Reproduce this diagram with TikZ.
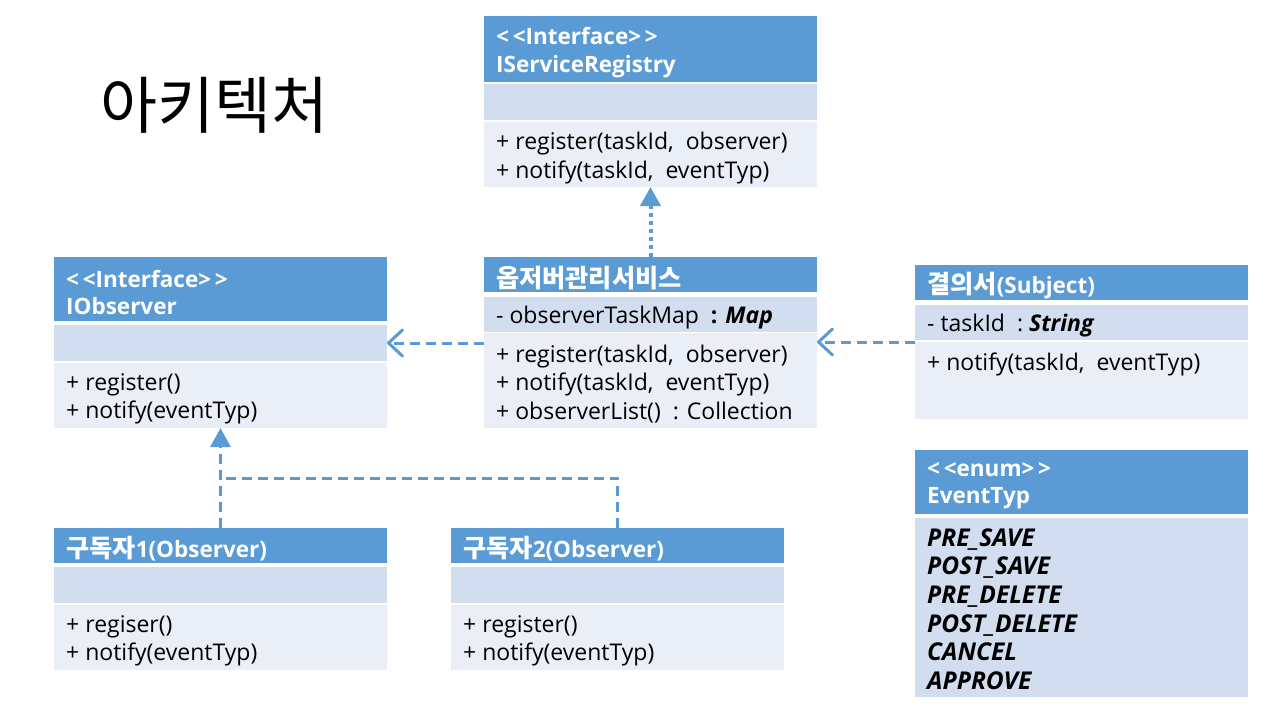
\documentclass[tikz,border=0pt]{standalone}
\usepackage{fontspec}
\setmainfont{Open Sans}
\newfontfamily\kr[Scale=1.12]{Noto Sans CJK KR}
\newfontfamily\krtitle{Noto Sans CJK KR}
\usetikzlibrary{arrows.meta}
\definecolor{hdr}{HTML}{5B9BD5}
\definecolor{rowA}{HTML}{D2DEEF}
\definecolor{rowB}{HTML}{EAEFF7}
\tikzset{
 box/.style={anchor=north west, inner sep=0pt, outer sep=0pt, minimum width=333pt},
 head/.style={box, fill=hdr},
 ra/.style={box, fill=rowA},
 rb/.style={box, fill=rowB},
 txt/.style={anchor=west, inner sep=0pt, align=left, font=\fontsize{23}{28.5}\selectfont},
 htxt/.style={txt, text=white, font=\bfseries\fontsize{22.5}{27.5}\selectfont},
 etxt/.style={txt, font=\bfseries\itshape\fontsize{24.5}{28.7}\selectfont},
 conn/.style={draw=hdr, line width=3pt},
 dsh/.style={dash pattern=on 10pt off 6pt},
 dts/.style={line width=4pt, dash pattern=on 4pt off 4pt},
 tri/.style={-{Triangle[width=20pt,length=19pt]}},
 openv/.style={-{Straight Barb[round,width=26pt,length=14pt]}}
}
\newcommand{\inpos}[1]{([xshift=12pt,yshift=-3.5pt]#1.west)}
\begin{document}
\begin{tikzpicture}[x=1pt,y=-1pt]
\useasboundingbox[fill=white] (0,0) rectangle (1280,720);

\node[anchor=west, inner sep=0, font=\krtitle\fontsize{62}{66}\selectfont] (title) at (100,105) {아키텍처};

% IServiceRegistry
\node[head, minimum height=66pt] (isrH) at (484,16) {};
\node[ra, minimum height=36pt] (isrA) at (484,84) {};
\node[rb, minimum height=65pt] (isrB) at (484,122) {};
\node[htxt] (isrHt) at \inpos{isrH} {<\,<Interface>\,>\\IServiceRegistry};
\node[txt] (isrBt) at \inpos{isrB} {+ register(taskId,\ \ observer)\\+ notify(taskId,\ \ eventTyp)};

% Observer management service
\node[head, minimum height=35pt] (svcH) at (484,257) {};
\node[ra, minimum height=35pt] (svcA) at (484,297) {};
\node[rb, minimum height=95pt] (svcB) at (484,333) {};
\node[htxt] (svcHt) at \inpos{svcH} {{\kr 옵저버관리서비스}};
\node[txt] (svcAt) at \inpos{svcA} {- observerTaskMap\ \ \textbf{: \textit{Map}}};
\node[txt] (svcBt) at \inpos{svcB} {+ register(taskId,\ \ observer)\\+ notify(taskId,\ \ eventTyp)\\+ observerList()\ \ : Collection};

% IObserver
\node[head, minimum height=64pt] (iobH) at (54,257) {};
\node[ra, minimum height=36pt] (iobA) at (54,325) {};
\node[rb, minimum height=65pt] (iobB) at (54,363) {};
\node[htxt] (iobHt) at \inpos{iobH} {<\,<Interface>\,>\\IObserver};
\node[txt] (iobBt) at \inpos{iobB} {+ register()\\+ notify(eventTyp)};

% Subscriber 1
\node[head, minimum height=35pt] (s1H) at (54,528) {};
\node[ra, minimum height=36pt] (s1A) at (54,567) {};
\node[rb, minimum height=65pt] (s1B) at (54,605) {};
\node[htxt] (s1Ht) at \inpos{s1H} {{\kr 구독자}1(Observer)};
\node[txt] (s1Bt) at \inpos{s1B} {+ regiser()\\+ notify(eventTyp)};

% Subscriber 2
\node[head, minimum height=35pt] (s2H) at (451,528) {};
\node[ra, minimum height=36pt] (s2A) at (451,567) {};
\node[rb, minimum height=65pt] (s2B) at (451,605) {};
\node[htxt] (s2Ht) at \inpos{s2H} {{\kr 구독자}2(Observer)};
\node[txt] (s2Bt) at \inpos{s2B} {+ register()\\+ notify(eventTyp)};

% Subject
\node[head, minimum height=35pt] (subH) at (915,265) {};
\node[ra, minimum height=35pt] (subA) at (915,305) {};
\node[rb, minimum height=77pt] (subB) at (915,342) {};
\node[htxt] (subHt) at \inpos{subH} {{\kr 결의서}(Subject)};
\node[txt] (subAt) at \inpos{subA} {- taskId\ \ :\ \textbf{\textit{String}}};
\node[txt] (subBt) at ([xshift=12pt,yshift=-22pt]subB.north west) {+ notify(taskId,\ \ eventTyp)};

% Enum
\node[head, minimum height=64pt] (enH) at (915,450) {};
\node[ra, minimum height=179pt] (enA) at (915,518) {};
\node[htxt] (enHt) at \inpos{enH} {<\,<enum>\,>\\EventTyp};
\node[etxt] (enAt) at ([xshift=12pt,yshift=-1.5pt]enA.west) {PRE\_SAVE\\POST\_SAVE\\PRE\_DELETE\\POST\_DELETE\\CANCEL\\APPROVE};

% connectors
\draw[conn, dts, tri] (svcH.north) -- (isrB.south);
\draw[conn, dsh, openv] ([yshift=-10pt]svcB.north west) -- ([yshift=-10pt]svcB.north west -| iobA.east);
\draw[conn, dsh, openv] (subB.north west) -- (subB.north west -| svcB.east);
\coordinate (jn) at (220,478);
\draw[conn, dsh, tri] (s1H.north) -- (iobB.south);
\draw[conn, dsh] (s2H.north) |- (jn);
\end{tikzpicture}
\end{document}
